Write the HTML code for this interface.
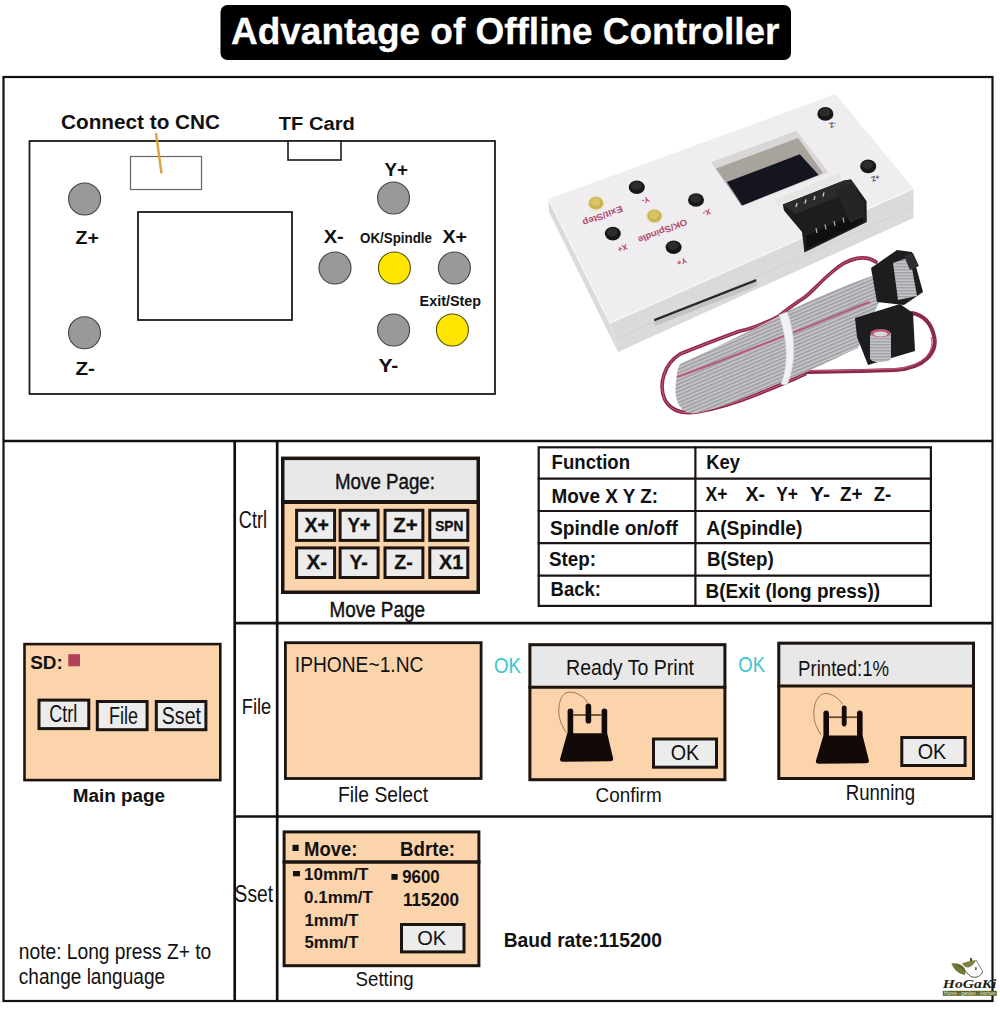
<!DOCTYPE html>
<html><head><meta charset="utf-8">
<style>
html,body{margin:0;padding:0;background:#fff;width:1000px;height:1010px;overflow:hidden}
svg{display:block}
text{font-family:"Liberation Sans",sans-serif}
.b{font-weight:bold}
</style></head><body>
<svg width="1000" height="1010" viewBox="0 0 1000 1010">
<rect x="0" y="0" width="1000" height="1010" fill="#fff"/>
<!-- title -->
<rect x="220.5" y="5" width="570.5" height="55" rx="7" fill="#000"/>
<text x="231" y="43.5" font-size="37.5" class="b" fill="#fff" stroke="#fff" stroke-width="0.3" textLength="548.5" lengthAdjust="spacingAndGlyphs">Advantage of Offline Controller</text>

<!-- frame -->
<g stroke="#111" fill="none">
<rect x="3.5" y="77" width="989" height="924" stroke-width="2.2"/>
<line x1="3.5" y1="441" x2="992.5" y2="441" stroke-width="2.6"/>
<line x1="234.7" y1="441" x2="234.7" y2="1001" stroke-width="2.7"/>
<line x1="277.2" y1="441" x2="277.2" y2="1001" stroke-width="2.7"/>
<line x1="234.7" y1="623.2" x2="992.5" y2="623.2" stroke-width="2.7"/>
<line x1="234.7" y1="816.5" x2="992.5" y2="816.5" stroke-width="2.7"/>
</g>

<!-- TOP DIAGRAM -->
<g id="diagram">
<rect x="29.5" y="141" width="465.5" height="253" fill="none" stroke="#1a1a1a" stroke-width="1.8"/>
<rect x="288" y="141" width="53" height="19" fill="#fff" stroke="#1a1a1a" stroke-width="1.6"/>
<rect x="130.5" y="156.5" width="71" height="33" fill="none" stroke="#666" stroke-width="1.2"/>
<line x1="156" y1="133" x2="161.5" y2="173.5" stroke="#d9a441" stroke-width="2.4"/>
<rect x="138" y="212" width="154" height="108" fill="none" stroke="#1a1a1a" stroke-width="1.8"/>
<g stroke="#444" stroke-width="1.1" fill="#999">
<circle cx="84.6" cy="199" r="16"/>
<circle cx="84.5" cy="332.8" r="16"/>
<circle cx="393.5" cy="198" r="16"/>
<circle cx="335" cy="268" r="16"/>
<circle cx="454.4" cy="268" r="16"/>
<circle cx="393.6" cy="330" r="16"/>
</g>
<g stroke="#55520a" stroke-width="1.1" fill="#ffe600">
<circle cx="394.4" cy="268" r="16"/>
<circle cx="452.4" cy="330" r="16"/>
</g>
<g class="b" fill="#111">
<text x="61" y="129" font-size="20.3" textLength="159" lengthAdjust="spacingAndGlyphs">Connect to CNC</text>
<text x="278.75" y="130" font-size="18.8" textLength="76" lengthAdjust="spacingAndGlyphs">TF Card</text>
<text x="75.6" y="244" font-size="18.8" textLength="23.4" lengthAdjust="spacingAndGlyphs">Z+</text>
<text x="75.5" y="375.4" font-size="18.8" textLength="19.5" lengthAdjust="spacingAndGlyphs">Z-</text>
<text x="384.5" y="175.5" font-size="18.8" textLength="23.5" lengthAdjust="spacingAndGlyphs">Y+</text>
<text x="323.75" y="242.5" font-size="18.8" textLength="20" lengthAdjust="spacingAndGlyphs">X-</text>
<text x="360" y="242.5" font-size="13.8" textLength="72" lengthAdjust="spacingAndGlyphs">OK/Spindle</text>
<text x="442.5" y="242.5" font-size="18.8" textLength="24.5" lengthAdjust="spacingAndGlyphs">X+</text>
<text x="419.6" y="306.4" font-size="13.8" textLength="61.4" lengthAdjust="spacingAndGlyphs">Exit/Step</text>
<text x="378.4" y="371.6" font-size="18.8" textLength="20" lengthAdjust="spacingAndGlyphs">Y-</text>
</g>
</g>

<!-- PRODUCT PHOTO -->
<g id="photo">
<defs><pattern id="rib" patternUnits="userSpaceOnUse" width="3.4" height="40" patternTransform="rotate(67)"><rect width="3.4" height="40" fill="#909095"/><rect x="0.4" width="2.3" height="40" fill="#c3c3c7"/></pattern><pattern id="rib2" patternUnits="userSpaceOnUse" width="3" height="40" patternTransform="rotate(90)"><rect width="3" height="40" fill="#939398"/><rect x="0.3" width="2" height="40" fill="#c3c3c7"/></pattern></defs>
<path d="M790 372 C820 372 860 371 895 370 C925 368 938 352 934 336 C931 322 922 315 912 313" fill="none" stroke="#8c2848" stroke-width="4" stroke-linecap="round"/>
<path d="M790 371 C820 371 860 370 895 369 C923 367 935 352 931 337" fill="none" stroke="#c45a7c" stroke-width="1" />
<path d="M876 262 C866 255 850 256 832 272 C818 284 812 292 805 297 C795 304 790 307 779 316 C760 326 745 330 740 331 C715 340 695 348 680 354 C664 364 658 385 665 400 C672 412 684 414 697 412 C715 409 738 402 758 394 C775 387 790 381 805 374" fill="none" stroke="#8c2848" stroke-width="3.6" stroke-linecap="round"/>
<path d="M876 262 C866 255 850 256 832 272 C818 284 812 292 805 297 C795 304 790 307 779 316 C760 326 745 330 740 331 C715 340 695 348 680 354 C664 364 658 385 665 400 C672 412 684 414 697 412 C715 409 738 402 758 394 C775 387 790 381 805 374" fill="none" stroke="#c45a7c" stroke-width="1" stroke-linecap="round"/>
<path d="M680 364 C710 350 745 334 779 316 C810 300 845 285 872 276 L880 300 L858 348 C840 356 820 366 798 375.6 C785 381 775 385 765 389 C745 398 722 407 697 413 C682 416 673 402 676 382 C677 372 678 367 680 364 Z" fill="url(#rib)"/>
<path d="M677 377 C720 362 760 345 800 330 C825 320 845 311 870 302" fill="none" stroke="#b85a7a" stroke-width="2"/>
<path d="M779 315 C786 335 790 362 781 384 L787 385 C797 362 795 332 787 312 Z" fill="#f2f2f4" stroke="#d4d4d8" stroke-width="0.7"/>
<path d="M871 268 L897 250 L912 252 L923 292 L904 305 L877 302 Z" fill="#1d1d1f"/>
<path d="M893 263 L910 257 L917 296 L898 300 Z" fill="url(#rib2)"/>
<path d="M904 256 L913 253 L919 266 L910 270 Z" fill="#2e2e30"/>
<path d="M855 318 L900 304 L913 313 L915 351 L868 365 L857 337 Z" fill="#1d1d1f"/>
<path d="M870 336 C870 330 890 328 891 334 L891 358 C891 363 870 364 870 358 Z" fill="url(#rib2)"/>
<ellipse cx="880.5" cy="333" rx="10" ry="4" fill="#c05878"/>
<ellipse cx="880.5" cy="334" rx="7" ry="2.5" fill="#d8d8dc"/>
<path d="M548.5 199 L610 323 L618 352 L549 212 Z" fill="#dcdadd"/>
<path d="M610 323 L913.5 188.5 L913.5 218 L618 352 Z" fill="#dbd9dc"/>
<path d="M548.5 199 L835.5 94 L913.5 188.5 L610 323 Z" fill="#efedf0"/>
<path d="M548.5 199 L610 323 L913.5 188.5" fill="none" stroke="#f6f5f7" stroke-width="1.5"/>
<path d="M913.5 207 L618 338" fill="none" stroke="#cfcdd0" stroke-width="0.8"/>
<path d="M654 319 L756 279 L756.5 281.5 L654.5 321.5 Z" fill="#2a2a2c"/>
<path d="M654.5 321.5 L756.5 281.5 L757 286 L655 326 Z" fill="#c4c2c5"/>
<path d="M710.7 162.3 L796.2 130.8 L828.6 172.2 L742.2 206.4 Z" fill="#d9d7d6"/>
<path d="M716 168.6 L798 138 L823 173 L741.3 205.5 Z" fill="#a8a39c"/>
<path d="M726.9 182.1 L799.8 154.2 L818.7 174.9 L742.2 205.5 Z" fill="#151520"/>
<path d="M775.5 199.2 L839.4 173.1 L841 181 L777.3 206 Z" fill="#e8e6e2"/>
<path d="M782.8 204.4 L844 180.4 L851 179.5 L866.5 201 L866.8 222 L804.4 252.4 L802 232 L784 210.4 Z" fill="#1d1d1f"/>
<path d="M782.8 204.4 L844 180.4 L851 179.5 L858 189 L796 214 Z" fill="#2b2b2d"/>
<path d="M806 236 L863 211 L863 222 L806.5 249 Z" fill="#0f0f11"/>
<path d="M836 190 L852 184 L864 203 L864 217 L850 223 Z" fill="#252527"/>
<line x1="796" y1="207" x2="797" y2="203" stroke="#c8c4b8" stroke-width="1.4"/>
<line x1="805" y1="203.5" x2="806" y2="199.5" stroke="#c8c4b8" stroke-width="1.4"/>
<line x1="814" y1="200" x2="815" y2="196" stroke="#c8c4b8" stroke-width="1.4"/>
<line x1="823" y1="196.5" x2="824" y2="192.5" stroke="#c8c4b8" stroke-width="1.4"/>
<line x1="817" y1="233" x2="816" y2="228" stroke="#b8b4a8" stroke-width="1.2"/>
<line x1="826" y1="229.5" x2="825" y2="224.5" stroke="#b8b4a8" stroke-width="1.2"/>
<line x1="835" y1="226" x2="834" y2="221" stroke="#b8b4a8" stroke-width="1.2"/>
<line x1="844" y1="222.5" x2="843" y2="217.5" stroke="#b8b4a8" stroke-width="1.2"/>
<ellipse cx="636.8" cy="187.2" rx="8" ry="6.8" fill="#161618"/>
<ellipse cx="636.3" cy="185.7" rx="5.5" ry="4.2" fill="#2c2c2e"/>
<ellipse cx="696" cy="200" rx="8" ry="6.8" fill="#161618"/>
<ellipse cx="695.5" cy="198.5" rx="5.5" ry="4.2" fill="#2c2c2e"/>
<ellipse cx="612.8" cy="233.6" rx="8" ry="6.8" fill="#161618"/>
<ellipse cx="612.3" cy="232.1" rx="5.5" ry="4.2" fill="#2c2c2e"/>
<ellipse cx="673.6" cy="247.2" rx="8" ry="6.8" fill="#161618"/>
<ellipse cx="673.1" cy="245.7" rx="5.5" ry="4.2" fill="#2c2c2e"/>
<ellipse cx="825.4" cy="113.9" rx="8" ry="6.8" fill="#161618"/>
<ellipse cx="824.9" cy="112.4" rx="5.5" ry="4.2" fill="#2c2c2e"/>
<ellipse cx="868.2" cy="166.4" rx="8" ry="6.8" fill="#161618"/>
<ellipse cx="867.7" cy="164.9" rx="5.5" ry="4.2" fill="#2c2c2e"/>
<ellipse cx="596" cy="203.2" rx="8.5" ry="7.5" fill="#e9e0c0"/>
<ellipse cx="596" cy="203.2" rx="7" ry="6.2" fill="#c9b24a"/>
<ellipse cx="595.5" cy="202.2" rx="5" ry="4" fill="#d8c466"/>
<ellipse cx="654.4" cy="216" rx="8.5" ry="7.5" fill="#e9e0c0"/>
<ellipse cx="654.4" cy="216" rx="7" ry="6.2" fill="#c9b24a"/>
<ellipse cx="653.9" cy="215" rx="5" ry="4" fill="#d8c466"/>
<text x="0" y="0" transform="translate(602.4 215.2) rotate(159.4)" font-size="9" font-weight="bold" fill="#b04868" text-anchor="middle" dominant-baseline="middle" textLength="42" lengthAdjust="spacingAndGlyphs">Exit/Step</text>
<text x="0" y="0" transform="translate(662.4 230.4) rotate(159)" font-size="9" font-weight="bold" fill="#b04868" text-anchor="middle" dominant-baseline="middle" textLength="52" lengthAdjust="spacingAndGlyphs">OK/Spindle</text>
<text x="0" y="0" transform="translate(645.6 199.5) rotate(159)" font-size="8" font-weight="bold" fill="#b04868" text-anchor="middle" dominant-baseline="middle">Y-</text>
<text x="0" y="0" transform="translate(706.4 212) rotate(159)" font-size="8" font-weight="bold" fill="#b04868" text-anchor="middle" dominant-baseline="middle">X-</text>
<text x="0" y="0" transform="translate(622.4 247.5) rotate(159)" font-size="8" font-weight="bold" fill="#b04868" text-anchor="middle" dominant-baseline="middle">X+</text>
<text x="0" y="0" transform="translate(681.6 261) rotate(159)" font-size="8" font-weight="bold" fill="#b04868" text-anchor="middle" dominant-baseline="middle">Y+</text>
<text x="0" y="0" transform="translate(832.6 124) rotate(159)" font-size="7" font-weight="bold" fill="#5a4650" text-anchor="middle" dominant-baseline="middle">-Z</text>
<text x="0" y="0" transform="translate(875.3 177.5) rotate(159)" font-size="7" font-weight="bold" fill="#5a4650" text-anchor="middle" dominant-baseline="middle">+Z</text>
</g>

<!-- BOTTOM -->
<g id="bottom">
<rect x="281" y="456.6" width="199" height="137.39999999999998" fill="#fcd4ab"/>
<rect x="281" y="456.6" width="199" height="45.39999999999998" fill="#e8e8e8"/>
<line x1="281" y1="502" x2="480" y2="502" stroke="#1c1410" stroke-width="4"/>
<rect x="282.75" y="458.35" width="195.50" height="133.90" fill="none" stroke="#1c1410" stroke-width="3.5"/>
<text x="335" y="488.5" font-size="22.5" fill="#111" textLength="100" lengthAdjust="spacingAndGlyphs" stroke="#111" stroke-width="0.45">Move Page:</text>
<rect x="296.60" y="510.30" width="38.00" height="30.10" fill="#ececec" stroke="#1c1410" stroke-width="3"/>
<rect x="340.10" y="510.30" width="38.00" height="30.10" fill="#ececec" stroke="#1c1410" stroke-width="3"/>
<rect x="385.00" y="510.30" width="37.90" height="30.10" fill="#ececec" stroke="#1c1410" stroke-width="3"/>
<rect x="429.80" y="510.30" width="38.00" height="30.10" fill="#ececec" stroke="#1c1410" stroke-width="3"/>
<rect x="296.60" y="547.90" width="38.00" height="29.60" fill="#ececec" stroke="#1c1410" stroke-width="3"/>
<rect x="340.10" y="547.90" width="38.00" height="29.60" fill="#ececec" stroke="#1c1410" stroke-width="3"/>
<rect x="385.00" y="547.90" width="37.90" height="29.60" fill="#ececec" stroke="#1c1410" stroke-width="3"/>
<rect x="429.80" y="547.90" width="38.00" height="29.60" fill="#ececec" stroke="#1c1410" stroke-width="3"/>
<text x="304.5" y="532.2" font-size="19.9" font-weight="bold" fill="#111" textLength="24.4" lengthAdjust="spacingAndGlyphs" stroke="#111" stroke-width="0.3">X+</text>
<text x="347.4" y="532.2" font-size="19.9" font-weight="bold" fill="#111" textLength="23.4" lengthAdjust="spacingAndGlyphs" stroke="#111" stroke-width="0.3">Y+</text>
<text x="393.2" y="532.2" font-size="19.9" font-weight="bold" fill="#111" textLength="24.4" lengthAdjust="spacingAndGlyphs" stroke="#111" stroke-width="0.3">Z+</text>
<text x="435.2" y="530.8" font-size="14.5" font-weight="bold" fill="#111" textLength="28.2" lengthAdjust="spacingAndGlyphs" stroke="#111" stroke-width="0.3">SPN</text>
<text x="306.5" y="569.2" font-size="19.9" font-weight="bold" fill="#111" textLength="20.5" lengthAdjust="spacingAndGlyphs" stroke="#111" stroke-width="0.3">X-</text>
<text x="349.4" y="569.2" font-size="19.9" font-weight="bold" fill="#111" textLength="18.5" lengthAdjust="spacingAndGlyphs" stroke="#111" stroke-width="0.3">Y-</text>
<text x="394.2" y="569.2" font-size="19.9" font-weight="bold" fill="#111" textLength="18.5" lengthAdjust="spacingAndGlyphs" stroke="#111" stroke-width="0.3">Z-</text>
<text x="439" y="569.2" font-size="19.9" font-weight="bold" fill="#111" textLength="24.4" lengthAdjust="spacingAndGlyphs" stroke="#111" stroke-width="0.3">X1</text>
<text x="329.4" y="617" font-size="22.2" fill="#111" textLength="95.6" lengthAdjust="spacingAndGlyphs" stroke="#111" stroke-width="0.45">Move Page</text>
<rect x="538.70" y="447.30" width="392.20" height="158.60" fill="none" stroke="#1c1410" stroke-width="2.2"/>
<line x1="537.6" y1="478.6" x2="932" y2="478.6" stroke="#1c1410" stroke-width="2.2"/>
<line x1="537.6" y1="511" x2="932" y2="511" stroke="#1c1410" stroke-width="2.2"/>
<line x1="537.6" y1="543.2" x2="932" y2="543.2" stroke="#1c1410" stroke-width="2.2"/>
<line x1="537.6" y1="575.6" x2="932" y2="575.6" stroke="#1c1410" stroke-width="2.2"/>
<line x1="695.4" y1="446.2" x2="695.4" y2="607" stroke="#1c1410" stroke-width="2.2"/>
<text x="551.6" y="469" font-size="21" font-weight="bold" fill="#111" textLength="78.4" lengthAdjust="spacingAndGlyphs">Function</text>
<text x="706.25" y="468.75" font-size="21" font-weight="bold" fill="#111" textLength="33.75" lengthAdjust="spacingAndGlyphs">Key</text>
<text x="551.6" y="503" font-size="21" font-weight="bold" fill="#111" textLength="106.4" lengthAdjust="spacingAndGlyphs">Move X Y Z:</text>
<text x="705.5" y="501" font-size="21" font-weight="bold" fill="#111" textLength="22" lengthAdjust="spacingAndGlyphs">X+</text>
<text x="745.5" y="501" font-size="21" font-weight="bold" fill="#111" textLength="19.5" lengthAdjust="spacingAndGlyphs">X-</text>
<text x="776.25" y="501" font-size="21" font-weight="bold" fill="#111" textLength="21.75" lengthAdjust="spacingAndGlyphs">Y+</text>
<text x="810" y="501" font-size="21" font-weight="bold" fill="#111" textLength="20" lengthAdjust="spacingAndGlyphs">Y-</text>
<text x="840" y="501" font-size="21" font-weight="bold" fill="#111" textLength="22.5" lengthAdjust="spacingAndGlyphs">Z+</text>
<text x="873.75" y="501" font-size="21" font-weight="bold" fill="#111" textLength="17.5" lengthAdjust="spacingAndGlyphs">Z-</text>
<text x="550" y="535" font-size="21" font-weight="bold" fill="#111" textLength="128" lengthAdjust="spacingAndGlyphs">Spindle on/off</text>
<text x="706.25" y="535" font-size="21" font-weight="bold" fill="#111" textLength="96.25" lengthAdjust="spacingAndGlyphs">A(Spindle)</text>
<text x="549" y="566.4" font-size="21" font-weight="bold" fill="#111" textLength="47" lengthAdjust="spacingAndGlyphs">Step:</text>
<text x="707" y="566" font-size="21" font-weight="bold" fill="#111" textLength="66.75" lengthAdjust="spacingAndGlyphs">B(Step)</text>
<text x="550.6" y="595.6" font-size="21" font-weight="bold" fill="#111" textLength="50.4" lengthAdjust="spacingAndGlyphs">Back:</text>
<text x="705.5" y="597.5" font-size="21" font-weight="bold" fill="#111" textLength="174.5" lengthAdjust="spacingAndGlyphs">B(Exit (long press))</text>
<rect x="24.50" y="644.10" width="195.80" height="136.00" fill="#fcd4ab" stroke="#1c1410" stroke-width="2.6"/>
<text x="30.2" y="668.5" font-size="19.1" font-weight="bold" fill="#111" textLength="32.6" lengthAdjust="spacingAndGlyphs">SD:</text>
<rect x="68.3" y="654.2" width="11.7" height="12.1" fill="#b3405c"/>
<rect x="39.00" y="700.10" width="49.80" height="28.50" fill="#ececec" stroke="#1c1410" stroke-width="3"/>
<rect x="97.30" y="701.50" width="49.80" height="28.20" fill="#ececec" stroke="#1c1410" stroke-width="3"/>
<rect x="156.30" y="701.50" width="49.60" height="28.20" fill="#ececec" stroke="#1c1410" stroke-width="3"/>
<text x="49.2" y="722" font-size="23" fill="#111" textLength="28" lengthAdjust="spacingAndGlyphs">Ctrl</text>
<text x="109" y="723.5" font-size="23" fill="#111" textLength="29" lengthAdjust="spacingAndGlyphs">File</text>
<text x="161.8" y="723.5" font-size="23" fill="#111" textLength="39.2" lengthAdjust="spacingAndGlyphs">Sset</text>
<text x="72.7" y="801.6" font-size="19.1" font-weight="bold" fill="#111" textLength="92.3" lengthAdjust="spacingAndGlyphs">Main page</text>
<rect x="285.40" y="642.70" width="195.70" height="135.80" fill="#fcd4ab" stroke="#1c1410" stroke-width="2.8"/>
<text x="294.8" y="671.9" font-size="22.3" fill="#111" textLength="128.6" lengthAdjust="spacingAndGlyphs">IPHONE~1.NC</text>
<text x="338" y="802.3" font-size="22.2" fill="#111" textLength="90" lengthAdjust="spacingAndGlyphs">File Select</text>
<text x="494" y="672.7" font-size="22.7" fill="#3ec6cc" textLength="27" lengthAdjust="spacingAndGlyphs">OK</text>
<text x="238.8" y="527.5" font-size="23" fill="#111" textLength="28.2" lengthAdjust="spacingAndGlyphs">Ctrl</text>
<text x="241.8" y="714.2" font-size="21.7" fill="#111" textLength="29.4" lengthAdjust="spacingAndGlyphs">File</text>
<text x="234.6" y="901.7" font-size="23" fill="#111" textLength="38.4" lengthAdjust="spacingAndGlyphs">Sset</text>
<rect x="528.4" y="643.2" width="198.0" height="138.0" fill="#fcd4ab"/>
<rect x="528.4" y="643.2" width="198.0" height="42.5" fill="#e8e8e8"/>
<line x1="528.4" y1="687.2" x2="726.4" y2="687.2" stroke="#1c1410" stroke-width="3"/>
<rect x="529.90" y="644.70" width="195.00" height="135.00" fill="none" stroke="#1c1410" stroke-width="3"/>
<text x="566" y="675.1" font-size="22.5" fill="#111" textLength="128" lengthAdjust="spacingAndGlyphs">Ready To Print</text>
<rect x="653.50" y="739.00" width="63.00" height="28.20" fill="#ececec" stroke="#1c1410" stroke-width="3"/>
<text x="670.7" y="759.6" font-size="21.6" fill="#111" textLength="28.5" lengthAdjust="spacingAndGlyphs">OK</text>
<rect x="777.3" y="641.7" width="197.70000000000005" height="138.29999999999995" fill="#fcd4ab"/>
<rect x="777.3" y="641.7" width="197.70000000000005" height="42.89999999999998" fill="#e8e8e8"/>
<line x1="777.3" y1="686.1" x2="975" y2="686.1" stroke="#1c1410" stroke-width="3"/>
<rect x="778.80" y="643.20" width="194.70" height="135.30" fill="none" stroke="#1c1410" stroke-width="3"/>
<text x="798.1" y="676" font-size="22.5" fill="#111" textLength="91" lengthAdjust="spacingAndGlyphs">Printed:1%</text>
<rect x="901.80" y="737.50" width="63.30" height="28.00" fill="#ececec" stroke="#1c1410" stroke-width="3"/>
<text x="917.7" y="759.2" font-size="21.6" fill="#111" textLength="28.5" lengthAdjust="spacingAndGlyphs">OK</text>
<text x="595.6" y="801.6" font-size="20.9" fill="#111" textLength="66" lengthAdjust="spacingAndGlyphs">Confirm</text>
<text x="845.7" y="800.3" font-size="22.6" fill="#111" textLength="69.4" lengthAdjust="spacingAndGlyphs">Running</text>
<text x="738.3" y="672.4" font-size="22.7" fill="#3ec6cc" textLength="26.8" lengthAdjust="spacingAndGlyphs">OK</text>
<path d="M567.2 733.2 L607.2 733.2 L613.2 758.7 Q613.2 761.2 610.2 761.2 L563 761.7 Q560 761.7 560 759.2 L567.2 733.2 Z" fill="#110a08"/>
<rect x="567.6" y="708.4" width="5.600000000000023" height="26.800000000000068" rx="2.8" fill="#110a08"/>
<rect x="601.6" y="708.4" width="5.600000000000023" height="26.800000000000068" rx="2.8" fill="#110a08"/>
<line x1="573.2" y1="715" x2="601.6" y2="715" stroke="#6a4a30" stroke-width="1.8"/>
<rect x="585.6" y="703.6" width="5.600000000000023" height="20.0" rx="2.8" fill="#110a08"/>
<path d="M566.8 733.2 C561 725 558 716 558.8 709 C559.5 701 561 696 565 693.5 C569 691 576 692 582 696.4 C585 698.5 587 701 587.6 703.6" fill="none" stroke="#8d6c4c" stroke-width="0.9"/>
<path d="M823.4 735.6 L862.6 735.6 L869 760.7 Q869 763.2 866 763.2 L818.8 763.7 Q815.8 763.7 815.8 761.2 L823.4 735.6 Z" fill="#110a08"/>
<rect x="823.4" y="710.4" width="5.600000000000023" height="27.200000000000045" rx="2.8" fill="#110a08"/>
<rect x="857" y="710.4" width="5.600000000000023" height="27.200000000000045" rx="2.8" fill="#110a08"/>
<line x1="829" y1="717.2" x2="857" y2="717.2" stroke="#6a4a30" stroke-width="1.8"/>
<rect x="841.8" y="705.6" width="4.800000000000068" height="20.799999999999955" rx="2.8" fill="#110a08"/>
<path d="M821 734.8 C816 727 813.5 720 813.8 713 C814 706 815.5 701 818 698 C820 695 822 693.6 826 693.5 C831 693.6 838 697 842.6 704.4" fill="none" stroke="#8d6c4c" stroke-width="0.9"/>
<rect x="284.10" y="831.90" width="194.80" height="133.80" fill="#fcd4ab" stroke="#1c1410" stroke-width="3"/>
<line x1="282.6" y1="862" x2="480.4" y2="862" stroke="#1c1410" stroke-width="3.5"/>
<rect x="292.5" y="844.8" width="6.2" height="6.2" fill="#111"/>
<text x="304" y="855.6" font-size="20" font-weight="bold" fill="#111" textLength="53.4" lengthAdjust="spacingAndGlyphs">Move:</text>
<text x="400" y="855.6" font-size="20" font-weight="bold" fill="#111" textLength="55.1" lengthAdjust="spacingAndGlyphs">Bdrte:</text>
<rect x="293" y="871" width="7" height="5.3" fill="#111"/>
<text x="304" y="880.3" font-size="16.7" font-weight="bold" fill="#111" textLength="64.4" lengthAdjust="spacingAndGlyphs">10mm/T</text>
<text x="304" y="902.8" font-size="16.7" font-weight="bold" fill="#111" textLength="69" lengthAdjust="spacingAndGlyphs">0.1mm/T</text>
<text x="304.5" y="926.3" font-size="16.7" font-weight="bold" fill="#111" textLength="54" lengthAdjust="spacingAndGlyphs">1mm/T</text>
<text x="304.5" y="948.3" font-size="16.7" font-weight="bold" fill="#111" textLength="54" lengthAdjust="spacingAndGlyphs">5mm/T</text>
<rect x="391.4" y="874" width="6.2" height="5.8" fill="#111"/>
<text x="402.2" y="883.2" font-size="17.7" font-weight="bold" fill="#111" textLength="37.5" lengthAdjust="spacingAndGlyphs">9600</text>
<text x="403" y="906.2" font-size="17.7" font-weight="bold" fill="#111" textLength="56" lengthAdjust="spacingAndGlyphs">115200</text>
<rect x="401.50" y="924.50" width="62.50" height="27.40" fill="#ececec" stroke="#1c1410" stroke-width="3"/>
<text x="417.2" y="944.7" font-size="20" fill="#111" textLength="29" lengthAdjust="spacingAndGlyphs">OK</text>
<text x="355.6" y="985.6" font-size="21" fill="#111" textLength="58.1" lengthAdjust="spacingAndGlyphs">Setting</text>
<text x="18.8" y="958.6" font-size="21.7" fill="#111" textLength="192.5" lengthAdjust="spacingAndGlyphs">note: Long press Z+ to</text>
<text x="18.8" y="984" font-size="21.7" fill="#111" textLength="146.3" lengthAdjust="spacingAndGlyphs">change language</text>
<text x="503.7" y="946.5" font-size="20.4" font-weight="bold" fill="#111" textLength="158.3" lengthAdjust="spacingAndGlyphs">Baud rate:115200</text>
</g>
<!-- logo -->
<g id="logo">
<path d="M951.3 963.5 C956 962.5 962 964 964.5 968 C966 971 965.5 974 964.8 974.8 C960 974.5 955.5 971 953.5 967.5 Z" fill="#6f7b36"/>
<path d="M962 963.5 C966 961.5 972 960.5 976 960 C974.5 963.5 972 966.5 968.5 967.5 C966 967.8 963.5 966 962 963.5 Z" fill="#7d8240"/>
<rect x="970" y="958" width="2" height="3" fill="#4a5220"/>
<path d="M956.5 965 C962 966 965 971 968.5 974.5 C971 977 974 977.8 977 977 C981 975.5 983 972.5 982.5 970.5" fill="none" stroke="#3f4a1c" stroke-width="0.9"/>
<path d="M976 960 L981.8 970" fill="none" stroke="#3f4a1c" stroke-width="0.7"/>
<rect x="975.2" y="967.2" width="1.4" height="2.8" fill="#333"/>
<text x="942.8" y="988.4" style="font-family:'Liberation Serif',serif" font-weight="bold" font-style="italic" font-size="12" fill="#1e1e10" textLength="53.6" lengthAdjust="spacingAndGlyphs">HoGaKi</text>
<rect x="942.8" y="990.8" width="54" height="5" fill="#5c6628"/>
<text x="944" y="995.2" font-size="4.6" fill="#e8ecd8" textLength="51.5" lengthAdjust="spacingAndGlyphs">Home - garden - kitchen</text>
</g>
</svg>
</body></html>
